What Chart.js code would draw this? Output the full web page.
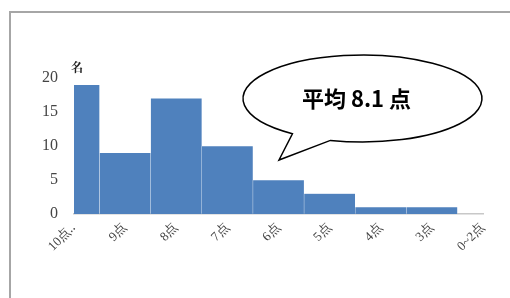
<!DOCTYPE html>
<html>
<head>
<meta charset="utf-8">
<script src="https://cdn.jsdelivr.net/npm/chart.js@4"></script>
<style>
  html, body { margin:0; padding:0; background:#fff; }
  body { width:510px; height:298px; overflow:hidden; position:relative; }
  .frame { position:absolute; left:9px; top:11px; width:600px; height:400px;
           border-left:2px solid #a6a6a6; border-top:2px solid #a6a6a6; }
  canvas { position:absolute; left:0; top:0; }
</style>
</head>
<body>
<div class="frame"></div>
<canvas id="c" width="510" height="298"></canvas>
<script>
const categories = ['10点‥', '9点', '8点', '7点', '6点', '5点', '4点', '3点', '0~2点'];
const counts = [19, 9, 17, 10, 5, 3, 1, 1, 0];
const yUnit = '名';
const calloutText = '平均 8.1 点';

// callout bubble + unit label drawn on top of the chart
const extras = {
  id: 'extras',
  afterDraw(chart) {
    const ctx = chart.ctx;
    const y = chart.scales.y;
    ctx.save();
    ctx.fillStyle = '#222';
    ctx.font = 'bold 12px "Noto Serif CJK JP", "Noto Sans CJK JP"';
    ctx.textAlign = 'center';
    ctx.textBaseline = 'middle';
    ctx.fillText(yUnit, chart.chartArea.left + 3, y.top - 11);

    const cx = 362.5, cy = 98.5, rx = 119.5, ry = 43.5;
    const a1 = 125.9 * Math.PI / 180, a2 = (105.6 + 360) * Math.PI / 180;
    ctx.beginPath();
    ctx.ellipse(cx, cy, rx, ry, 0, a1, a2);
    ctx.lineTo(279, 160);
    ctx.closePath();
    ctx.fillStyle = '#fff';
    ctx.fill();
    ctx.lineWidth = 1.5;
    ctx.strokeStyle = '#000';
    ctx.stroke();

    ctx.fillStyle = '#000';
    ctx.font = 'bold 22px "Noto Sans CJK JP"';
    ctx.fillText(calloutText, cx - 6, cy);
    ctx.restore();
  }
};

new Chart(document.getElementById('c'), {
  type: 'bar',
  data: {
    labels: categories,
    datasets: [{
      data: counts,
      backgroundColor: '#4f81bd',
      borderColor: 'rgba(255,255,255,0.18)',
      borderWidth: 0.5,
      categoryPercentage: 1,
      barPercentage: 1
    }]
  },
  options: {
    responsive: false,
    animation: false,
    layout: { padding: { left: 10, top: 78, right: 27, bottom: 0 } },
    plugins: { legend: { display: false }, tooltip: { enabled: false } },
    scales: {
      x: {
        offset: false,
        grid: { display: false, drawTicks: false },
        border: { color: '#c8c8c8', width: 1.5 },
        ticks: {
          minRotation: 45, maxRotation: 45, autoSkip: false, padding: 6,
          color: '#444', font: { family: '"Liberation Serif", serif', size: 13 }
        },
        afterFit(s) { s.height = 84; }
      },
      y: {
        min: 0, max: 20,
        grid: { display: false, drawTicks: false },
        border: { display: false },
        ticks: {
          stepSize: 5, padding: 16,
          color: '#444', font: { family: '"Liberation Serif", serif', size: 16 }
        },
        afterFit(s) { s.width = 64; }
      }
    }
  },
  plugins: [extras]
});
</script>
</body>
</html>
